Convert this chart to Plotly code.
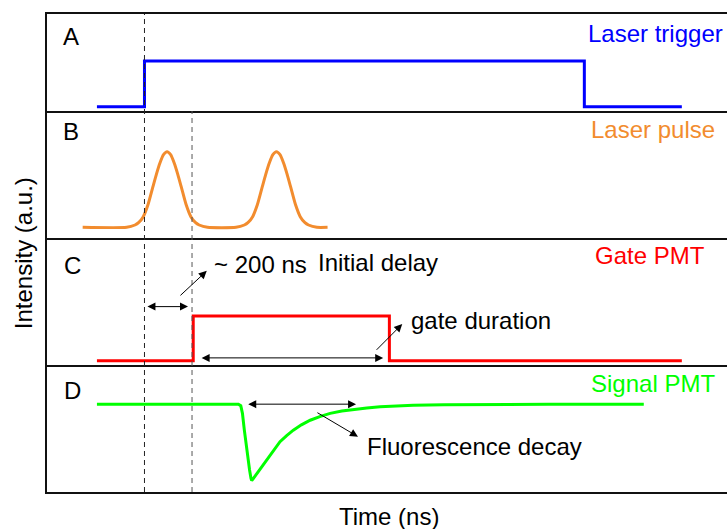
import plotly.graph_objects as go
from plotly.subplots import make_subplots


# Timing schematic: time in ns, intensities in arbitrary units.
trigger_t = [-200, 0, 0, 1850, 1850, 2260]
trigger_v = [0, 0, 1, 1, 0, 0]

pulse_t = [-260,
           -75, -40, -25, -5, 15, 35, 50, 65, 80, 95,
           110, 125, 140, 155, 175, 195, 215, 230, 265,
           385, 420, 435, 455, 475, 495, 510, 525, 540, 555,
           570, 585, 600, 615, 635, 655, 675, 690, 725,
           770]
pulse_v = [0,
           0, 0.03, 0.06, 0.14, 0.30, 0.53, 0.70, 0.85, 0.96, 1.0,
           0.96, 0.85, 0.70, 0.53, 0.30, 0.14, 0.06, 0.03, 0,
           0, 0.03, 0.06, 0.14, 0.30, 0.53, 0.70, 0.85, 0.96, 1.0,
           0.96, 0.85, 0.70, 0.53, 0.30, 0.14, 0.06, 0.03, 0,
           0]

gate_t = [-200, 205, 205, 1030, 1030, 2260]
gate_v = [0, 0, 1, 1, 0, 0]

signal_t = [-200, 395, 405, 412, 420, 428, 435, 442, 448, 451, 456, 465,
            486, 507, 528, 549, 570, 598, 626, 660, 697, 740, 781, 830,
            878, 935, 991, 1060, 1130, 1260, 1400, 1700, 2100]
signal_v = [0, 0, -0.02, -0.12, -0.34, -0.55, -0.70, -0.86, -0.97, -1.0,
            -0.98, -0.94, -0.86, -0.76, -0.66, -0.57, -0.49, -0.41, -0.34,
            -0.27, -0.21, -0.16, -0.12, -0.09, -0.07, -0.05, -0.035, -0.025,
            -0.015, -0.009, -0.005, -0.002, 0]

panel_letters = ["A", "B", "C", "D"]
series_names = ["Laser trigger", "Laser pulse", "Gate PMT", "Signal PMT"]
colors = ["#0000FF", "#F28C2E", "#FF0000", "#00FF00"]

FONT = "Liberation Sans, Arial, sans-serif"

fig = make_subplots(rows=4, cols=1, shared_xaxes=True, vertical_spacing=0,
                    row_heights=[97, 127, 127, 127])

series = [(trigger_t, trigger_v, "linear"), (pulse_t, pulse_v, "spline"),
          (gate_t, gate_v, "linear"), (signal_t, signal_v, "linear")]
for i, (t, v, shape) in enumerate(series):
    fig.add_trace(go.Scatter(x=t, y=v, mode="lines", name=series_names[i],
                             line=dict(color=colors[i], width=3, shape=shape,
                                       smoothing=0.6)),
                  row=i + 1, col=1)

y_ranges = [[-0.094, 2.028], [-0.142, 1.538], [-0.096, 2.745], [-1.148, 0.512]]
for i in range(4):
    fig.update_yaxes(range=y_ranges[i], row=i + 1, col=1)

fig.update_xaxes(range=[-410, 2450], showticklabels=False, ticks="",
                 showgrid=False, zeroline=False, showline=True,
                 linecolor="#111111", linewidth=2)
fig.update_xaxes(mirror=True, row=1, col=1)
fig.update_yaxes(showticklabels=False, ticks="", showgrid=False,
                 zeroline=False, showline=True, linecolor="#111111",
                 linewidth=2)

# dashed guides at t = 0 and t = 200 ns
fig.add_shape(type="line", xref="x", yref="paper", x0=0, x1=0, y0=0, y1=1,
              line=dict(color="#222222", width=1, dash="5px,4px"))
fig.add_shape(type="line", xref="x", yref="paper", x0=200, x1=200,
              y0=0, y1=381 / 478,
              line=dict(color="#555555", width=1, dash="5px,4px"))

# panel letters and series names (paper coords)
letter_pos = [(0.020, 0.952), (0.020, 0.755), (0.022, 0.473), (0.022, 0.213)]
name_pos = [(0.997, 0.96), (0.985, 0.758), (0.971, 0.494), (0.985, 0.226)]
for i in range(4):
    fig.add_annotation(text=panel_letters[i], xref="paper", yref="paper",
                       x=letter_pos[i][0], y=letter_pos[i][1],
                       xanchor="left", yanchor="middle", showarrow=False,
                       font=dict(family=FONT, size=24, color="black"))
    fig.add_annotation(text=series_names[i], xref="paper", yref="paper",
                       x=name_pos[i][0], y=name_pos[i][1],
                       xanchor="right", yanchor="middle", showarrow=False,
                       font=dict(family=FONT, size=24, color=colors[i]))

notes = [("~ 200 ns", 0.242, 0.475), ("Initial delay", 0.395, 0.481),
         ("gate duration", 0.533, 0.359), ("Fluorescence decay", 0.467, 0.096)]
for text, x, y in notes:
    fig.add_annotation(text=text, xref="paper", yref="paper", x=x, y=y,
                       xanchor="left", yanchor="middle", showarrow=False,
                       font=dict(family=FONT, size=24, color="black"))

# arrows: (row, head x, head y, tail x, tail y, double-headed)
arrows = [(3, 183, 1.21, 6, 1.21, True),
          (3, 262, 2.01, 145, 1.43, False),
          (3, 1004, 0.063, 234, 0.063, True),
          (3, 1084, 0.82, 970, 0.21, False),
          (4, 890, 0.0, 430, 0.0, True),
          (4, 898, -0.425, 721, -0.10, False)]
for row, hx, hy, tx, ty, both in arrows:
    fig.add_annotation(x=hx, y=hy, ax=tx, ay=ty, text="",
                       xref=f"x{row}", yref=f"y{row}",
                       axref=f"x{row}", ayref=f"y{row}",
                       showarrow=True, arrowhead=2, arrowsize=1.6,
                       arrowwidth=1, arrowcolor="black",
                       startarrowhead=2, startarrowsize=1.6,
                       arrowside="end+start" if both else "end")

fig.add_annotation(text="Time (ns)", xref="paper", yref="paper",
                   x=0.503, y=-0.052, xanchor="center", yanchor="middle",
                   showarrow=False, font=dict(family=FONT, size=24,
                                              color="black"))
fig.add_annotation(text="Intensity (a.u.)", xref="paper", yref="paper",
                   x=-0.035, y=0.5, textangle=-90, xanchor="center",
                   yanchor="middle", showarrow=False,
                   font=dict(family=FONT, size=24, color="black"))

fig.update_layout(width=727, height=529, showlegend=False,
                  margin=dict(l=47, r=0, t=14, b=37),
                  plot_bgcolor="white", paper_bgcolor="white",
                  font=dict(family=FONT))

# the page's default body margin would shift the figure by 8 px
fig.write_html("out.html", config={"displayModeBar": False},
               post_script="document.body.style.margin = '0';")
